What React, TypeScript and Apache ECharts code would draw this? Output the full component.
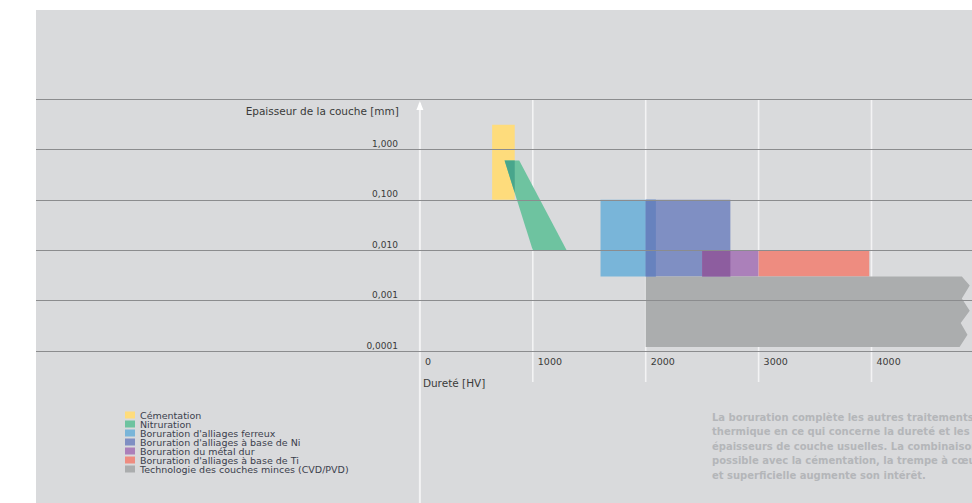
import React, { useEffect, useRef } from 'react';
import * as echarts from 'echarts';

// ---- Axes ----
const hardnessTicks = [0, 1000, 2000, 3000, 4000];
const thicknessTicks = [0.0001, 0.001, 0.01, 0.1, 1, 10];
const thicknessLabels = ['0,0001', '0,001', '0,010', '0,100', '1,000', ''];
const xAxisName = 'Dureté [HV]';
const yAxisName = 'Epaisseur de la couche [mm]';

// ---- Series (vertices: [hardness HV, thickness mm]) ----
const seriesNames = [
  'Cémentation',
  'Nitruration',
  "Boruration d'alliages ferreux",
  "Boruration d'alliages à base de Ni",
  'Boruration du métal dur',
  "Boruration d'alliages à base de Ti",
  'Technologie des couches minces (CVD/PVD)',
];
const seriesColors = ['#fedc7c', '#6ec3a0', '#79b5d9', '#7f8fc3', '#ab80ba', '#ee8c80', '#abadae'];

const cementation = [[640, 0.1], [840, 0.1], [840, 3.1], [640, 3.1]];
const nitriding = [[750, 0.6], [880, 0.6], [1300, 0.01], [1000, 0.01]];
const borFerrous = [[1600, 0.003], [2090, 0.003], [2090, 0.1], [1600, 0.1]];
const borNickel = [[2000, 0.003], [2750, 0.003], [2750, 0.1], [2000, 0.1]];
const borHardMetal = [[2500, 0.003], [3000, 0.003], [3000, 0.01], [2500, 0.01]];
const borTitanium = [[3000, 0.003], [3980, 0.003], [3980, 0.01], [3000, 0.01]];
const thinFilm = [
  [2000, 0.003], [4800, 0.003], [4870, 0.002], [4800, 0.0011], [4870, 0.00063],
  [4790, 0.00036], [4850, 0.00021], [4780, 0.00012], [2000, 0.00012],
];
const shapes = [cementation, nitriding, borFerrous, borNickel, borHardMetal, borTitanium, thinFilm];

// overlapping areas are darker: [lower shape, upper shape, colour]
const overlapPairs: [number, number, string][] = [
  [0, 1, '#48a68c'],
  [2, 3, '#6782be'],
  [3, 4, '#8d5d9f'],
];

const paragraph = [
  'La boruration complète les autres traitements',
  'thermique en ce qui concerne la dureté et les',
  'épaisseurs de couche usuelles. La combinaison',
  'possible avec la cémentation, la trempe à cœur',
  'et superficielle augmente son intérêt.',
];

const xMin = -3400;
const xMax = 4890;
const FONT = '"DejaVu Sans", "Open Sans", sans-serif';

type P = number[];
const toT = (p: P) => [p[0], Math.log10(p[1])];
const fromT = (p: P) => [p[0], Math.pow(10, p[1])];

function clipPolygon(subject: P[], clip: P[]): P[] {
  let area = 0;
  for (let i = 0; i < clip.length; i++) {
    const a = clip[i], b = clip[(i + 1) % clip.length];
    area += a[0] * b[1] - b[0] * a[1];
  }
  const sgn = area >= 0 ? 1 : -1;
  let output = subject;
  for (let i = 0; i < clip.length && output.length; i++) {
    const a = clip[i], b = clip[(i + 1) % clip.length];
    const side = (p: P) => sgn * ((b[0] - a[0]) * (p[1] - a[1]) - (b[1] - a[1]) * (p[0] - a[0]));
    const input = output;
    output = [];
    for (let j = 0; j < input.length; j++) {
      const p = input[j], q = input[(j + 1) % input.length];
      const sp = side(p), sq = side(q);
      if (sp >= 0) output.push(p);
      if ((sp >= 0) !== (sq >= 0)) {
        const t = sp / (sp - sq);
        output.push([p[0] + t * (q[0] - p[0]), p[1] + t * (q[1] - p[1])]);
      }
    }
  }
  return output;
}

const overlaps = overlapPairs
  .map(([i, j, color]) => ({
    poly: clipPolygon(shapes[j].map(toT), shapes[i].map(toT)).map(fromT),
    color,
  }))
  .filter((o) => o.poly.length >= 3);

export default function App() {
  const ref = useRef<HTMLDivElement>(null);

  useEffect(() => {
    if (!ref.current) return;
    const chart = echarts.init(ref.current, undefined, { renderer: 'svg' });
    const gridLeft = 36;
    const gridWidth = 936;
    const gridTop = 99;
    const gridBottom = 152;
    const zeroOffset = ((0 - xMin) / (xMax - xMin)) * gridWidth;

    const polySeries = shapes.map((poly, k) => ({
      type: 'custom',
      name: seriesNames[k],
      itemStyle: { color: seriesColors[k] },
      data: [poly[0]],
      renderItem: (_params: any, api: any) => ({
        type: 'polygon',
        shape: { points: poly.map((p) => api.coord(p)) },
        style: { fill: seriesColors[k] },
      }),
    }));

    const overlapSeries = {
      type: 'custom',
      data: overlaps.map((o) => o.poly[0]),
      renderItem: (params: any, api: any) => {
        const o = overlaps[params.dataIndex];
        return {
          type: 'polygon',
          shape: { points: o.poly.map((p) => api.coord(p)) },
          style: { fill: o.color },
        };
      },
    };

    chart.setOption({
      animation: false,
      backgroundColor: '#ffffff',
      grid: { left: gridLeft, right: 0, top: gridTop, bottom: gridBottom, containLabel: false },
      xAxis: {
        type: 'value',
        min: xMin,
        max: xMax,
        axisLine: { show: false, onZero: false },
        axisTick: { show: false },
        splitLine: { show: false },
        axisLabel: {
          customValues: hardnessTicks,
          formatter: (v: number) => String(v),
          align: 'left',
          padding: [0, 0, 0, 5],
          margin: 5,
          fontSize: 9.5,
          color: '#3a3a3a',
          fontFamily: FONT,
        },
      },
      yAxis: {
        type: 'log',
        logBase: 10,
        min: thicknessTicks[0],
        max: thicknessTicks[thicknessTicks.length - 1],
        offset: -zeroOffset,
        z: 5,
        axisLine: { show: false },
        axisTick: { show: false },
        splitLine: { show: true, lineStyle: { color: '#8b8c8e', width: 1 } },
        axisLabel: {
          margin: 22,
          fontSize: 9,
          color: '#3a3a3a',
          fontFamily: FONT,
          verticalAlign: 'bottom',
          padding: [0, 0, 1, 0],
          showMinLabel: true,
          showMaxLabel: true,
          formatter: (v: number) => {
            const idx = thicknessTicks.findIndex((t) => Math.abs(Math.log10(t) - Math.log10(v)) < 0.01);
            return idx >= 0 ? thicknessLabels[idx] : '';
          },
        },
      },
      legend: {
        show: true,
        orient: 'vertical',
        left: 120,
        top: 405,
        itemWidth: 10,
        itemHeight: 7,
        itemGap: -1,
        icon: 'rect',
        selectedMode: false,
        data: seriesNames,
        textStyle: { fontSize: 9.5, color: '#3b404c', fontFamily: FONT, lineHeight: 9 },
      },
      series: [...polySeries, overlapSeries],
    });

    const px = (x: number, y: number) => chart.convertToPixel({ gridIndex: 0 }, [x, y]) as number[];
    const top = px(0, thicknessTicks[thicknessTicks.length - 1]);
    const bottom = px(0, thicknessTicks[0]);
    const zx = top[0];
    const graphics: any[] = [
      { type: 'rect', z: -100, shape: { x: 36, y: 10, width: 936, height: 493 }, style: { fill: '#d9dadc' } },
    ];
    hardnessTicks.forEach((v) => {
      const x = px(v, 1)[0];
      graphics.push({
        type: 'line',
        z: -50,
        shape: { x1: x, y1: v === 0 ? top[1] + 4 : top[1], x2: x, y2: v === 0 ? 503 : bottom[1] + 31 },
        style: { stroke: '#f3f3f4', lineWidth: v === 0 ? 2 : 1.6 },
      });
    });
    graphics.push({
      type: 'polygon',
      z: 10,
      shape: { points: [[zx - 3.5, top[1] + 11], [zx + 3.5, top[1] + 11], [zx, top[1] + 2]] },
      style: { fill: '#ffffff' },
    });
    graphics.push({
      type: 'text',
      z: 10,
      x: zx - 21,
      y: top[1] + 12,
      style: {
        text: yAxisName, fill: '#3a3a3a', fontSize: 10.5, fontFamily: FONT,
        align: 'right', verticalAlign: 'middle',
      },
    });
    graphics.push({
      type: 'text',
      z: 10,
      x: zx + 3,
      y: bottom[1] + 32,
      style: {
        text: xAxisName, fill: '#3a3a3a', fontSize: 10.5, fontFamily: FONT,
        align: 'left', verticalAlign: 'middle',
      },
    });
    paragraph.forEach((line, i) => {
      graphics.push({
        type: 'text',
        z: 10,
        x: 712,
        y: 417 + i * 14.5,
        style: {
          text: line, fill: '#b4b6b9', fontSize: 10, fontWeight: 'bold', fontFamily: FONT,
          align: 'left', verticalAlign: 'middle',
        },
      });
    });
    chart.setOption({ graphic: graphics });

    return () => chart.dispose();
  }, []);

  return (
    <div
      ref={ref}
      style={{ position: 'fixed', left: 0, top: 0, width: 972, height: 503, background: '#ffffff' }}
    />
  );
}
